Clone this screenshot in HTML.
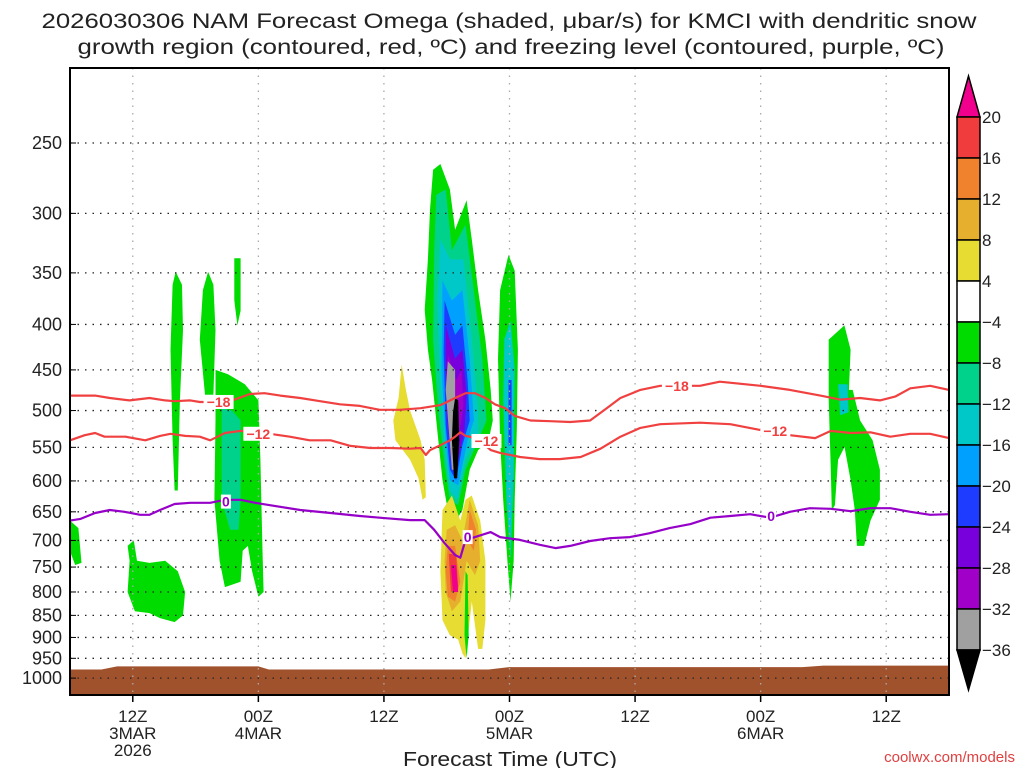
<!DOCTYPE html>
<html><head><meta charset="utf-8"><style>
body{margin:0;background:#fff;}
svg{display:block;font-family:"Liberation Sans",sans-serif;}
</style></head><body>
<svg id="chart" width="1024" height="768" viewBox="0 0 1024 768">
<text x="509" y="28" text-anchor="middle" font-size="21" textLength="935" lengthAdjust="spacingAndGlyphs" fill="#222">2026030306 NAM Forecast Omega (shaded, μbar/s) for KMCI with dendritic snow</text>
<text x="511" y="54" text-anchor="middle" font-size="21" textLength="867" lengthAdjust="spacingAndGlyphs" fill="#222">growth region (contoured, red, ºC) and freezing level (contoured, purple, ºC)</text>
<g id="shade"></g>
<g id="ground"></g>
<g id="grid"></g>
<g id="lines"></g>
<g id="yaxis"></g>
<g id="xaxis"></g>
<rect x="70" y="68" width="879" height="627" fill="none" stroke="#000" stroke-width="2"/>
<g id="cbar"></g>
<text x="510" y="766" text-anchor="middle" font-size="20" textLength="214" lengthAdjust="spacingAndGlyphs" fill="#222">Forecast Time (UTC)</text>
<text x="1015" y="762" text-anchor="end" font-size="15" fill="#e04040">coolwx.com/models</text>
</svg>
<script>
const pressureTicks=[250,300,350,400,450,500,550,600,650,700,750,800,850,900,950,1000];
const timeTickHours=[6,18,30,42,54,66,78];
const timeTickLine1=["12Z","00Z","12Z","00Z","12Z","00Z","12Z"];
const timeTickLine2=["3MAR","4MAR","","5MAR","","6MAR",""];
const timeTickLine3=["2026","","","","","",""];
const cbarLabels=["20","16","12","8","4","\u22124","\u22128","\u221212","\u221216","\u221220","\u221224","\u221228","\u221232","\u221236"];
const cbarColors=["#f03c3c","#f0822d","#e6af2d","#e6dc32","#ffffff","#00dc00","#00d28c","#00c8c8","#00a0ff","#1e3cff","#7800dc","#a000c8","#a0a0a0"];
const frzHours=[0,1,2.4,3.8,5.2,6.7,7.6,8.6,10,11.5,13.4,14.8,16.3,17.7,19.1,22,24.9,27.7,29.6,32.5,33.9,34.8,35.8,36.8,37.3,37.8,38.7,40.2,41.1,43,44.9,46.4,47.8,49.7,51.6,53.5,55.4,57.3,59.3,61.2,63.1,65,66.9,68.8,70.7,72.7,74.6,76.5,78.4,80.3,82.2,84];
const frzP=[665,662,652,647,650,655,655,647,637,635,635,630,630,635,639,647,652,657,660,664,664,681,705,727,732,699,694,685,694,699,708,714,710,701,696,694,687,678,671,660,657,654,660,650,644,645,649,644,644,650,655,654];
const m12Hours=[0,1.4,2.4,3.3,5.3,7.2,8.6,9.6,11,12.4,13.4,14.8,16.3,17.7,19.1,21,22.9,24.9,26.8,28.7,30.6,32.5,33.5,34,34.4,35.4,36.3,36.8,37.3,37.8,38.2,39.2,40.2,41.1,43,44.9,46.8,48.8,50.7,52.6,54.5,56.4,60.2,63.1,66,68.8,71.2,72.7,74.6,76.5,78.4,80.3,82.2,84];
const m12P=[540,533,530,535,535,540,534,531,534,535,540,530,527,529,531,535,540,540,548,551,551,552,551,561,554,547,540,535,529,534,535,541,554,558,564,567,567,564,552,535,523,518,516,518,526,533,537,527,530,529,535,531,531,537];
const m18Hours=[0,2.4,3.8,5.7,7.6,9.1,10,11.5,12.4,13.9,15.3,17.2,18.6,20.1,22,23.9,25.8,27.7,29.6,31.5,33.5,35.4,36.8,37.8,38.7,39.7,40.6,41.6,42.5,44,45.9,47.8,49.7,51.1,52.6,54.5,56.4,60.2,62.1,66,68.8,71.7,73.6,75.5,77.4,78.9,80.3,82.2,84];
const m18P=[481,481,484,487,484,487,488,487,489,489,488,479,478,481,484,488,492,494,499,499,497,493,484,478,478,484,492,497,507,513,514,515,513,499,484,474,469,469,464,469,474,481,486,484,487,482,472,469,474];
const groundHours=[0,3,4.5,18,19,40,42,70,72,84];
const groundP=[978,978,970,970,978,978,972,972,968,968];
const blobLevels=[5,5,5,5,6,5,5,  5,6,7,8,9,10,11,12,13,  5,7,9,  4,3,2,2,1,0,5,  4,  5,5,7];
const blobColors=["#f0008c","#f03c3c","#f0822d","#e6af2d","#e6dc32","#00dc00","#00d28c","#00c8c8","#00a0ff","#1e3cff","#7800dc","#a000c8","#a0a0a0","#000000"];
const blobShapes=[
 [[0,665],[0.8,678],[1.1,742],[0.5,746],[0,720]],
 [[9.8,361],[10.1,349],[10.7,361],[10.8,406],[10.5,487],[10.3,615],[10,615],[9.8,540],[9.6,427]],
 [[12.7,366],[13.2,349],[13.7,361],[13.9,406],[13.7,480],[12.9,480],[12.4,416]],
 [[13.9,450],[15.1,455],[16.7,467],[18,487],[18.2,568],[18.4,719],[18.5,800],[18,810],[17.4,758],[17,710],[16.5,719],[16.3,779],[14.8,790],[14.3,738],[13.8,630],[13.9,513]],
 [[14.5,497],[15.5,500],[16.3,513],[16.3,630],[16.1,681],[15.3,681],[14.5,630]],
 [[15.7,337],[16.3,337],[16.3,386],[16,401],[15.7,376]],
 [[5.5,710],[6.1,700],[6.4,738],[7.6,742],[9.1,738],[10.3,758],[11,800],[10.8,850],[10,865],[8.6,856],[7.6,845],[6.2,841],[5.5,800],[5.7,738]],
 [[34.7,268],[35.4,264],[36.3,282],[36.8,313],[37.9,290],[38.4,321],[39,366],[39.7,416],[40.2,474],[40.4,513],[40,540],[39,554],[38.2,583],[37.5,647],[36.8,668],[36.1,647],[35.6,599],[35.2,540],[34.6,462],[34.2,427],[33.9,385],[34.2,338],[34.4,297]],
 [[35,286],[35.9,282],[36.5,330],[37.8,309],[38.7,376],[39.4,437],[39.8,513],[39,540],[37.8,583],[37.1,639],[36.3,630],[35.8,576],[35.2,500],[34.7,416],[34.8,330]],
 [[35.4,321],[36.3,338],[37.6,338],[38.4,416],[39,500],[39,533],[37.8,568],[37,630],[36.3,615],[35.8,547],[35.4,474],[35.1,376]],
 [[35.6,357],[36.5,376],[37.5,366],[38.2,437],[38.6,513],[38,540],[37.1,607],[36.3,599],[35.9,540],[35.5,450]],
 [[35.8,376],[36.8,411],[37.5,401],[38,462],[38.2,513],[37.5,547],[36.9,599],[36.3,583],[35.9,519],[35.7,430]],
 [[35.9,401],[36.8,437],[37.5,427],[37.9,480],[37.7,526],[36.9,583],[36.4,568],[36,500],[35.9,444]],
 [[36.1,432],[36.9,462],[37.4,450],[37.6,493],[37.1,540],[36.8,568],[36.4,554],[36.1,493]],
 [[36.1,440],[36.8,450],[36.8,526],[36.9,583],[36.5,583],[36.2,526],[35.9,474]],
 [[36.8,484],[37.1,487],[37.2,540],[37,596],[36.7,596],[36.5,540],[36.6,502]],
 [[41.1,366],[41.9,334],[42.5,348],[42.8,427],[42.7,526],[42.5,630],[42.4,738],[42.1,820],[41.8,738],[41.4,630],[41.1,540],[40.9,437]],
 [[41.5,416],[42.1,396],[42.5,450],[42.4,599],[42.1,738],[41.7,630],[41.4,487]],
 [[41.9,462],[42.2,462],[42.2,547],[41.9,547]],
 [[35.6,647],[36.5,623],[37.3,665],[37.8,630],[38.4,623],[39.2,665],[39.7,738],[39.7,861],[39.4,927],[39,927],[38.4,820],[38,905],[37.8,950],[37.5,938],[37.1,905],[36.3,895],[35.6,861],[35.4,758]],
 [[36,681],[36.8,673],[37.5,700],[38.2,630],[39,673],[39.2,738],[38.7,766],[37.9,738],[37.3,820],[36.5,841],[35.9,800],[35.8,738]],
 [[36.1,710],[36.8,710],[37.3,779],[36.8,820],[36.1,810],[35.9,758]],
 [[38.2,647],[38.8,681],[38.6,719],[38,700]],
 [[36.2,725],[36.9,725],[37.1,790],[36.4,800]],
 [[36.4,746],[36.9,746],[37.1,800],[36.6,800]],
 [[37.8,758],[38,766],[38.1,895],[37.9,950],[37.7,895]],
 [[31.7,444],[32.1,474],[32.5,500],[33.5,540],[33.9,568],[34,626],[33.7,630],[33.3,596],[32.5,568],[31.1,540],[30.9,513],[31.4,484]],
 [[72.5,416],[74,401],[74.6,427],[74.4,487],[74.1,547],[73.4,568],[73.1,639],[72.8,647],[72.7,583],[72.5,487]],
 [[73.6,474],[74.8,474],[75.5,513],[76.7,540],[77.4,583],[77.4,630],[76.5,665],[75.9,710],[75.2,710],[75,647],[74.6,599],[73.9,540]],
 [[73.4,467],[74.3,467],[74.4,502],[73.6,506]]
];
const NS='http://www.w3.org/2000/svg';
const X0=70,X1=949,HMAX=84,PT=143,PS=386;
function xS(h){return X0+h*(X1-X0)/HMAX;}
function yS(p){return PT+PS*Math.log(p/250);}
function mk(tag,attrs,parent){const e=document.createElementNS(NS,tag);for(const k in attrs)e.setAttribute(k,attrs[k]);parent.appendChild(e);return e;}
const shade=document.getElementById('shade');
blobShapes.forEach((pts,i)=>{
  const e=mk('polygon',{points:pts.map(q=>xS(q[0]).toFixed(1)+','+yS(q[1]).toFixed(1)).join(' '),fill:blobColors[blobLevels[i]]},shade);
  
  
});
const gr=document.getElementById('ground');
let gp='M'+xS(0)+',695 ';
groundHours.forEach((h,i)=>{gp+='L'+xS(h).toFixed(1)+','+yS(groundP[i]).toFixed(1)+' ';});
gp+='L'+xS(84)+',695 Z';
const ge=mk('path',{d:gp,fill:'#a0522d'},gr);


const grid=document.getElementById('grid');
const ya=document.getElementById('yaxis');
pressureTicks.forEach(p=>{
  const y=yS(p);
  const l=mk('line',{x1:X0,x2:X1,y1:y,y2:y,stroke:'#222','stroke-width':1.3,'stroke-dasharray':'1.5 6'},grid);
  
  
  const t=mk('text',{x:62,y:y+6,'text-anchor':'end','font-size':18,fill:'#222'},ya);
  t.textContent=p;
  
  
  mk('line',{x1:X0,x2:X0+6,y1:y,y2:y,stroke:'#000'},ya);
});
const xa=document.getElementById('xaxis');
timeTickHours.forEach((h,i)=>{
  const x=xS(h);
  const l=mk('line',{x1:x,x2:x,y1:68,y2:695,stroke:'#aaa','stroke-width':1.3,'stroke-dasharray':'1.5 6'},grid);
  
  
  mk('line',{x1:x,x2:x,y1:695,y2:702,stroke:'#000','stroke-width':1.5},xa);
  [timeTickLine1[i],timeTickLine2[i],timeTickLine3[i]].forEach((s,j)=>{
    if(!s)return;
    const t=mk('text',{x:x,y:722+j*17,'text-anchor':'middle','font-size':17,fill:'#222'},xa);
    t.textContent=s;
    
    
  });
});
const lines=document.getElementById('lines');
function drawLine(hs,ps,color,name){
  const d=hs.map((h,i)=>(i?'L':'M')+xS(h).toFixed(1)+','+yS(ps[i]).toFixed(1)).join(' ');
  const e=mk('path',{d:d,fill:'none',stroke:color,'stroke-width':2.2,'stroke-linejoin':'round'},lines);
  
  
}
drawLine(m18Hours,m18P,'#f04040','contour-minus18');
drawLine(m12Hours,m12P,'#f04040','contour-minus12');
drawLine(frzHours,frzP,'#9600c8','freezing-level-line');
const labels=[[14.2,489,'\u221218','#f04040'],[58.0,469,'\u221218','#f04040'],[18.0,531,'\u221212','#f04040'],[39.8,541,'\u221212','#f04040'],[67.4,527,'\u221212','#f04040'],[14.9,633,'0','#9600c8'],[38.0,694,'0','#9600c8'],[67.0,657,'0','#9600c8']];
labels.forEach(l=>{
  const x=xS(l[0]),y=yS(l[1]);
  mk('rect',{x:x-(l[2].length*5),y:y-7,width:l[2].length*10,height:14,fill:'#fff'},lines);
  const t=mk('text',{x:x,y:y+5,'text-anchor':'middle','font-size':14,'font-weight':'bold',fill:l[3]},lines);
  t.textContent=l[2];
  
  
});
const cb=document.getElementById('cbar');
const CX=957,CW=23,CT=117,CH=41;
mk('polygon',{points:`${CX},${CT} ${CX+CW},${CT} ${CX+CW/2},76`,fill:'#f0008c',stroke:'#000','stroke-width':1.5},cb);
cbarColors.forEach((c,i)=>{
  const r=mk('rect',{x:CX,y:CT+i*CH,width:CW,height:CH,fill:c,stroke:'#000','stroke-width':1.5},cb);
  
  
});
const bot=CT+cbarColors.length*CH;
mk('polygon',{points:`${CX},${bot} ${CX+CW},${bot} ${CX+CW/2},${bot+40}`,fill:'#000',stroke:'#000','stroke-width':1.5},cb);
cbarLabels.forEach((s,i)=>{
  const t=mk('text',{x:CX+CW+2,y:CT+i*CH+6,'font-size':17,fill:'#222'},cb);
  t.textContent=s;
  
  
});
</script>
</body></html>
